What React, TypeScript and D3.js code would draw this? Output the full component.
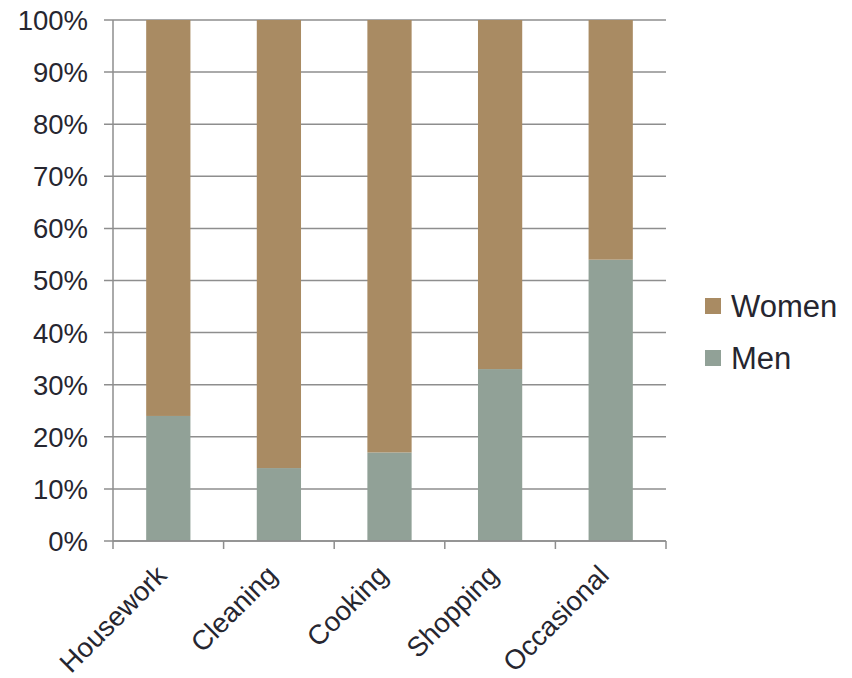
import React from "react";
import * as d3 from "d3";

const categories = ["Housework", "Cleaning", "Cooking", "Shopping", "Occasional"];
const men = [24, 14, 17, 33, 54];
const women = [76, 86, 83, 67, 46];
const yTicks = [0, 10, 20, 30, 40, 50, 60, 70, 80, 90, 100];
const seriesNames = ["Women", "Men"];

const W = 852, H = 678;
const left = 113, right = 666, top = 20, bottom = 541;
const colors: Record<string, string> = { Men: "#91A197", Women: "#A98B63" };
const textColor = "#262630";
const gridColor = "#8E8E8E";
const font = "'Liberation Sans', Arial, sans-serif";

export default function App() {
  const x = d3.scaleBand<string>().domain(categories).range([left, right]).paddingInner(0.6).paddingOuter(0.3);
  const band = d3.scaleBand<string>().domain(categories).range([left, right]);
  const y = d3.scaleLinear().domain([0, 100]).range([bottom, top]);
  const rows = categories.map((c, i) => ({ cat: c, Men: men[i], Women: women[i] }));
  const stack = d3.stack<any>().keys(["Men", "Women"])(rows);
  const boundaries = [...categories.map((c) => band(c)!), right];

  return (
    <svg width={W} height={H} style={{ position: "absolute", left: 0, top: 0 }} fontFamily={font}>
      {yTicks.map((t) => (
        <g key={t}>
          <line x1={104} x2={right} y1={y(t)} y2={y(t)} stroke={gridColor} strokeWidth={1.5} />
          <text x={88} y={y(t)} dy="0.36em" textAnchor="end" fontSize={27.5} fill={textColor}>{t}%</text>
        </g>
      ))}
      {stack.map((s) =>
        s.map((d, i) => (
          <rect key={s.key + i} x={x(categories[i])} width={x.bandwidth()} y={y(d[1])} height={y(d[0]) - y(d[1])} fill={colors[s.key]} />
        ))
      )}
      <line x1={left} x2={left} y1={top} y2={bottom} stroke={gridColor} strokeWidth={1.5} />
      <line x1={left} x2={right} y1={bottom} y2={bottom} stroke={gridColor} strokeWidth={1.5} />
      {boundaries.map((b, i) => (
        <line key={i} x1={b} x2={b} y1={bottom} y2={549} stroke={gridColor} strokeWidth={1.5} />
      ))}
      {categories.map((c) => {
        const cx = x(c)! + x.bandwidth() / 2;
        const cy = 577;
        return (
          <text key={c} transform={`translate(${cx},${cy}) rotate(-45)`} textAnchor="end" fontSize={27.5} fill={textColor}>{c}</text>
        );
      })}
      {seriesNames.map((n, i) => (
        <g key={n} transform={`translate(705,${306 + i * 52})`}>
          <rect x={0} y={-8} width={16} height={16} fill={colors[n]} />
          <text x={26} y={0} dy="0.36em" fontSize={31} fill={textColor}>{n}</text>
        </g>
      ))}
    </svg>
  );
}
